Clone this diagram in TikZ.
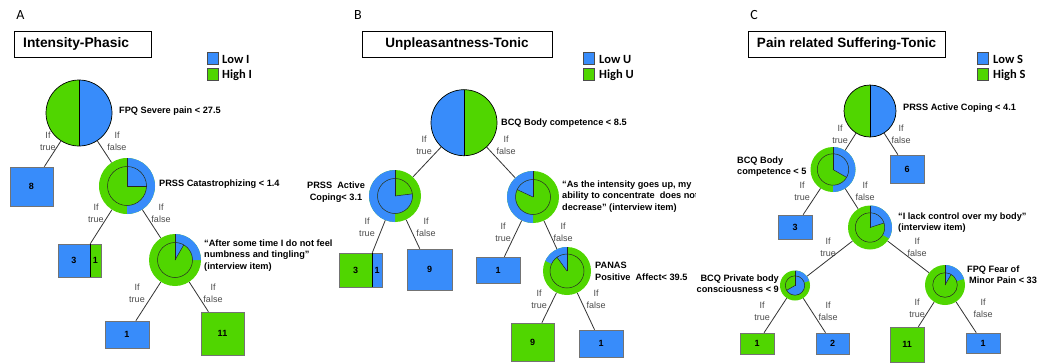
\documentclass[tikz,border=0pt]{standalone}
\usepackage{fontspec}
\setmainfont{Liberation Sans}
\newfontfamily\carlito{Carlito}
\definecolor{bl}{RGB}{56,140,250}
\definecolor{gr}{RGB}{80,214,0}
\tikzset{
  lbl/.style={font=\bfseries\fontsize{9.2}{11.5}\selectfont, align=left, inner sep=0pt},
  iflbl/.style={font=\fontsize{9}{12}\selectfont, text=black!70, align=center, inner sep=0pt},
  leaf/.style={draw=black!55, line width=0.6pt, inner sep=0pt, font=\bfseries\fontsize{9}{10}\selectfont},
  titlebox/.style={draw, line width=0.9pt, inner sep=0pt, minimum height=26, font=\bfseries\fontsize{13.5}{15}\selectfont},
  legtxt/.style={font=\carlito\bfseries\fontsize{12.5}{14}\selectfont, anchor=west, inner sep=0pt},
  legsq/.style={draw=black!70, line width=0.6pt, minimum width=11, minimum height=12, inner sep=0pt},
  letter/.style={font=\carlito\fontsize{14}{16}\selectfont, inner sep=0pt},
  conn/.style={draw=black!80, line width=0.8pt},
  pnode/.style={circle, inner sep=0pt, draw=none}
}
% #1 name, #2 x, #3 y, #4 R, #5 r, #6/#7 outer blue start/end, #8/#9 inner blue start/end
\newcommand\pienode[9]{%
  \node[pnode, minimum size={2*#4}] (#1) at (#2,#3) {};
  \fill[gr] (#1.center) circle[radius=#4];
  \fill[bl] (#1.center) -- ++(#6:#4) arc[start angle=#6, end angle=#7, radius=#4] -- cycle;
  \fill[gr] (#1.center) circle[radius=#5];
  \fill[bl] (#1.center) -- ++(#8:#5) arc[start angle=#8, end angle=#9, radius=#5] -- cycle;
  \draw[black!85, line width=0.5pt] (#1.center) circle[radius=#5];
  \draw[black!85, line width=0.5pt] (#1.center) -- ++(#8:#5);
  \draw[black!85, line width=0.5pt] (#1.center) -- ++(#9:#5);
  \draw[black!85, line width=0.5pt] (#1.center) -- ++(90:#4);
}
% #1 name, #2 x, #3 y, #4 R, #5 blue start, #6 blue end
\newcommand\rootnode[6]{%
  \node[pnode, minimum size={2*#4}] (#1) at (#2,#3) {};
  \fill[gr] (#1.center) circle[radius=#4];
  \fill[bl] (#1.center) -- ++(#5:#4) arc[start angle=#5, end angle=#6, radius=#4] -- cycle;
  \draw[black, line width=0.7pt] (#1.center) circle[radius=#4];
  \draw[black, line width=0.7pt] (#1.center) ++(90:#4) -- ++(0,{-2*#4});
}
\begin{document}
\begin{tikzpicture}[x=1pt, y=1pt]
\useasboundingbox (0,0) rectangle (1047,-362);
\fill[white] (0,0) rectangle (1047,-362);

% ================= Panel A =================
\node[letter] (letA) at (20.5,-15.5) {A};
\node[titlebox, minimum width=137] (titA) at (82.5,-44) {};
\node[inner sep=0pt, anchor=west, font=\bfseries\fontsize{13.8}{15}\selectfont] (titAt) at (23,-44) {Intensity-Phasic};
\node[legsq, fill=bl] (lgA1) at (212.5,-58) {};
\node[legsq, fill=gr] (lgA2) at (212.5,-74) {};
\node[legtxt] (lgA1t) at (222,-59) {Low I};
\node[legtxt] (lgA2t) at (222,-75.5) {High I};

\rootnode{rA}{79}{-113}{33}{-90}{90}
\node[lbl, anchor=west] (rAl) at (119,-111) {FPQ Severe pain < 27.5};
\node[iflbl] (rAt) at (48,-141) {If\\true};
\node[iflbl] (rAf) at (117,-141) {If\\false};

\node[leaf, fill=bl, minimum width=43, minimum height=39] (lA8) at (31.5,-186.5) {8};

\pienode{nA2}{127}{-186}{28}{19.5}{-90}{90}{0}{90}
\node[lbl, anchor=west] (nA2l) at (159,-184) {PRSS Catastrophizing < 1.4};
\node[iflbl] (nA2t) at (96,-213) {If\\true};
\node[iflbl] (nA2f) at (161,-213) {If\\false};

\node[leaf, fill=bl, minimum width=32, minimum height=33] (lA3) at (74,-260.5) {3};
\node[leaf, fill=gr, minimum width=11, minimum height=33] (lA1) at (95.5,-260.5) {1};
\draw[black, line width=0.8pt] (lA3.north east) -- (lA3.south east);

\pienode{nA3}{175}{-260}{26}{17.5}{0}{90}{60}{90}
\node[lbl, anchor=west] (nA3l) at (204,-255.5) {“After some time I do not feel\\numbness and tingling”\\(interview item)};
\node[iflbl] (nA3t) at (137,-293) {If\\true};
\node[iflbl] (nA3f) at (213,-293) {If\\false};

\node[leaf, fill=bl, minimum width=44, minimum height=27] (lA1b) at (127,-334.5) {1};
\node[leaf, fill=gr, minimum width=43, minimum height=43] (lA11) at (222.5,-333.5) {11};

\draw[conn] (rA) -- (lA8);
\draw[conn] (rA) -- (nA2);
\draw[conn] (nA2) -- (lA3.north east);
\draw[conn] (nA2) -- (nA3);
\draw[conn] (nA3) -- (lA1b);
\draw[conn] (nA3) -- (lA11);

% ================= Panel B =================
\node[letter] (letB) at (358,-15) {B};
\node[titlebox, minimum width=190] (titB) at (457,-44) {Unpleasantness-Tonic};
\node[legsq, fill=bl] (lgB1) at (588.5,-58) {};
\node[legsq, fill=gr] (lgB2) at (588.5,-74) {};
\node[legtxt] (lgB1t) at (599,-59) {Low U};
\node[legtxt] (lgB2t) at (599,-75.5) {High U};

\rootnode{rB}{464}{-122.7}{33}{90}{270}
\node[lbl, anchor=west] (rBl) at (501,-123) {BCQ Body competence < 8.5};
\node[iflbl] (rBt) at (424,-145) {If\\true};
\node[iflbl] (rBf) at (506,-145) {If\\false};

\pienode{nBL}{395}{-196}{26}{17.5}{90}{270}{90}{367}
\node[lbl, align=center] (nBLl) at (336,-192) {PRSS\ \ Active\\Coping< 3.1};
\node[iflbl] (nBLt) at (367,-227) {If\\true};
\node[iflbl] (nBLf) at (426,-227) {If\\false};

\node[leaf, fill=gr, minimum width=33, minimum height=34] (lB3) at (355.5,-270) {3};
\node[leaf, fill=bl, minimum width=10, minimum height=34] (lB1) at (377,-270) {1};
\draw[black, line width=0.8pt] (lB3.north east) -- (lB3.south east);
\node[leaf, fill=bl, minimum width=45, minimum height=41] (lB9) at (429.5,-269.5) {9};

\pienode{nBR}{533}{-197}{26}{17.5}{90}{270}{90}{155}
\begin{scope}
\clip (540,-150) rectangle (695,-240);
\node[lbl, anchor=west] (nBRl) at (562,-196.5) {“As the intensity goes up, my\\ability to concentrate\ \ does not\\decrease” (interview item)};
\end{scope}
\node[iflbl] (nBRt) at (503,-232) {If\\true};
\node[iflbl] (nBRf) at (563,-232) {If\\false};

\node[leaf, fill=bl, minimum width=44, minimum height=26] (lB1b) at (498,-270) {1};

\pienode{nBP}{567}{-271}{24}{17}{90}{155}{90}{126}
\node[lbl, anchor=west] (nBPl) at (595,-271.5) {PANAS\\Positive\ \ Affect< 39.5};
\node[iflbl] (nBPt) at (539,-299) {If\\true};
\node[iflbl] (nBPf) at (596,-299) {If\\false};

\node[leaf, fill=gr, minimum width=43, minimum height=38] (lB9b) at (532.5,-342) {9};
\node[leaf, fill=bl, minimum width=44, minimum height=27] (lB1c) at (601,-343.5) {1};

\draw[conn] (rB) -- (nBL);
\draw[conn] (rB) -- (nBR);
\draw[conn] (nBL) -- (lB3.north east);
\draw[conn] (nBL) -- (lB9);
\draw[conn] (nBR) -- (lB1b);
\draw[conn] (nBR) -- (nBP);
\draw[conn] (nBP) -- (lB9b);
\draw[conn] (nBP) -- (lB1c);

% ================= Panel C =================
\node[letter] (letC) at (754,-15) {C};
\node[titlebox, minimum width=197] (titC) at (846.5,-44) {Pain related Suffering-Tonic};
\node[legsq, fill=bl] (lgC1) at (982.5,-58) {};
\node[legsq, fill=gr] (lgC2) at (982.5,-74) {};
\node[legtxt] (lgC1t) at (993,-59) {Low S};
\node[legtxt] (lgC2t) at (993,-75.5) {High S};

\rootnode{rC}{870}{-111}{26}{-90}{90}
\node[lbl, anchor=west] (rCl) at (903,-108) {PRSS Active Coping < 4.1};
\node[iflbl] (rCt) at (840,-134) {If\\true};
\node[iflbl] (rCf) at (901,-134) {If\\false};

\node[leaf, fill=bl, minimum width=34, minimum height=28] (lC6) at (907,-169) {6};

\pienode{nCB}{833}{-169.5}{22.5}{15.7}{-90}{90}{-30}{90}
\node[lbl, anchor=west] (nCBl) at (737,-166.5) {BCQ Body\\competence < 5};
\node[iflbl] (nCBt) at (802,-191) {If\\true};
\node[iflbl] (nCBf) at (865,-191) {If\\false};

\node[leaf, fill=bl, minimum width=34, minimum height=24] (lC3) at (795,-227) {3};

\pienode{nCK}{870}{-227.5}{22}{14.7}{-30}{90}{18}{90}
\node[lbl, anchor=west] (nCKl) at (898,-222.5) {“I lack control over my body”\\(interview item)};
\node[iflbl] (nCKt) at (828,-247) {If\\true};
\node[iflbl] (nCKf) at (917,-247) {If\\false};

\pienode{nCP}{795}{-285.5}{15}{9.7}{18}{90}{-150}{90}
\node[lbl, anchor=east, align=right] (nCPl) at (779,-283.5) {BCQ Private body\\consciousness < 9};
\node[iflbl] (nCPt) at (762,-311) {If\\true};
\node[iflbl] (nCPf) at (828,-311) {If\\false};

\node[leaf, fill=gr, minimum width=34, minimum height=21] (lC1) at (757,-343.5) {1};
\node[leaf, fill=bl, minimum width=33, minimum height=21] (lC2) at (832.5,-343.5) {2};

\pienode{nCF}{945}{-285}{20}{12.3}{18}{90}{60}{90}
\node[lbl, anchor=west] (nCFl) at (967,-274.5) {FPQ Fear of\\\hspace*{2pt}Minor Pain < 33};
\node[iflbl] (nCFt) at (917,-308) {If\\true};
\node[iflbl] (nCFf) at (983,-308) {If\\false};

\node[leaf, fill=gr, minimum width=34, minimum height=35] (lC11) at (907,-344.5) {11};
\node[leaf, fill=bl, minimum width=34, minimum height=20] (lC1b) at (983,-343) {1};

\draw[conn] (rC) -- (nCB);
\draw[conn] (rC) -- (lC6);
\draw[conn] (nCB) -- (lC3);
\draw[conn] (nCB) -- (nCK);
\draw[conn] (nCK) -- (nCP);
\draw[conn] (nCK) -- (nCF);
\draw[conn] (nCP) -- (lC1);
\draw[conn] (nCP) -- (lC2);
\draw[conn] (nCF) -- (lC11);
\draw[conn] (nCF) -- (lC1b);
\end{tikzpicture}
\end{document}
